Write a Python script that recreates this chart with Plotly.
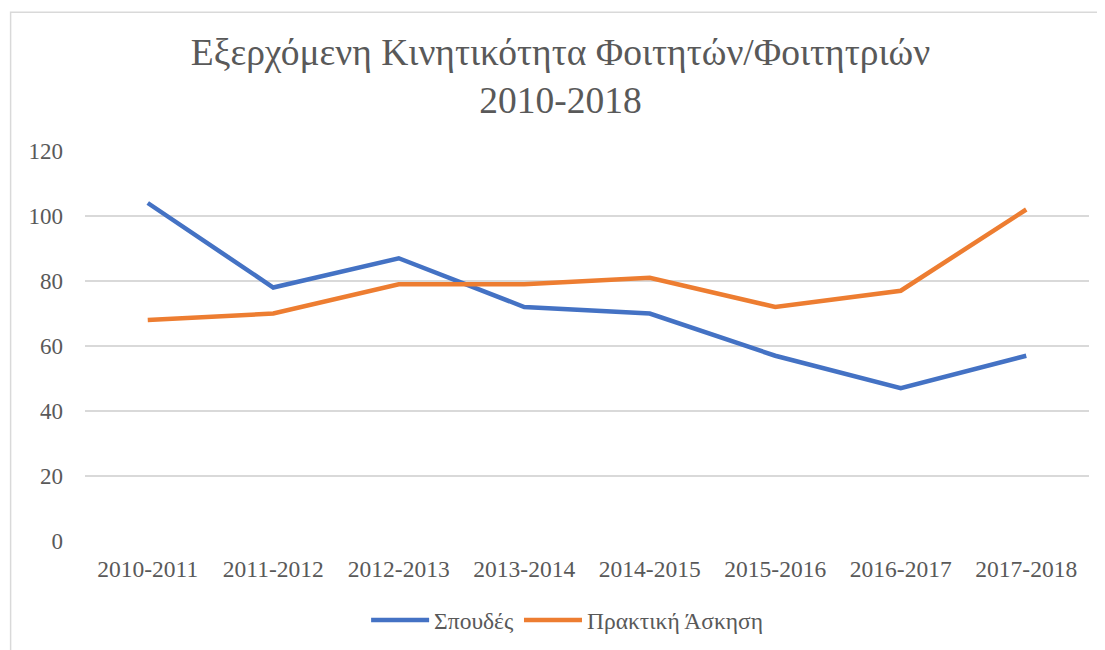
import plotly.graph_objects as go

categories = ["2010-2011", "2011-2012", "2012-2013", "2013-2014",
              "2014-2015", "2015-2016", "2016-2017", "2017-2018"]
spoudes = [104, 78, 87, 72, 70, 57, 47, 57]
praktiki = [68, 70, 79, 79, 81, 72, 77, 102]
y_ticks = [0, 20, 40, 60, 80, 100, 120]

FONT = "Liberation Serif, Times New Roman, serif"
TXT = "#595959"

fig = go.Figure()
fig.add_trace(go.Scatter(x=categories, y=spoudes, mode="lines", name="Σπουδές",
                         line=dict(color="#4472C4", width=4.5)))
fig.add_trace(go.Scatter(x=categories, y=praktiki, mode="lines", name="Πρακτική Άσκηση",
                         line=dict(color="#ED7D31", width=4.5)))

fig.update_layout(
    width=1105, height=650,
    paper_bgcolor="white", plot_bgcolor="white",
    margin=dict(l=77, r=24, t=143, b=117),
    font=dict(family=FONT, color=TXT, size=23),
    title=dict(text="Εξερχόμενη Κινητικότητα Φοιτητών/Φοιτητριών<br>2010-2018",
               x=0.5, xanchor="center", y=0.913, yanchor="middle",
               font=dict(family=FONT, size=37.5, color=TXT)),
    showlegend=True,
    legend=dict(orientation="h", x=0.28, xanchor="left", y=-0.203, yanchor="middle",
                font=dict(family=FONT, size=23.5, color=TXT),
                itemwidth=58,
                bgcolor="rgba(0,0,0,0)"),
    xaxis=dict(type="category", range=[-0.5, 7.5], showgrid=False, showline=False,
               zeroline=False, ticks="", tickfont=dict(family=FONT, size=23.5, color=TXT),
               ticklabelstandoff=11),
    yaxis=dict(range=[0, 120], tickvals=y_ticks, showgrid=True, gridcolor="#D9D9D9",
               gridwidth=1.5, zeroline=False, showline=False, ticks="",
               tickfont=dict(family=FONT, size=23, color=TXT), ticklabelstandoff=21),
    shapes=[dict(type="rect", xref="paper", yref="paper",
                 x0=-0.0741, x1=1.1, y0=-0.5, y1=1.356,
                 line=dict(color="#D9D9D9", width=1.5), fillcolor="rgba(0,0,0,0)",
                 layer="below")],
)
fig.write_html("out.html")
